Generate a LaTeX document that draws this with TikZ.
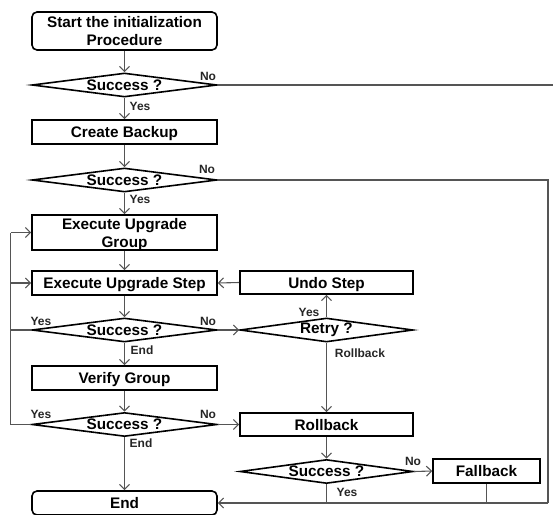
\documentclass[tikz,border=0pt]{standalone}
\usepackage{fontspec}
\setmainfont{Liberation Sans}
\usetikzlibrary{shapes.geometric,arrows.meta}
\definecolor{linegray}{RGB}{85,85,85}
\begin{document}
\begin{tikzpicture}[x=1pt,y=-1pt,
 box/.style={draw=black,line width=1.6pt,rectangle,minimum width=185pt,minimum height=24pt,inner sep=0pt,text depth=0pt,font=\fontsize{15.3}{18}\selectfont\bfseries,align=center},
 rbox/.style={box,rounded corners=5pt},
 dia/.style={draw=black,line width=1.6pt,diamond,aspect=7.7,minimum width=185pt,minimum height=24pt,inner sep=0pt,font=\fontsize{15.3}{18}\selectfont\bfseries},
 conn/.style={draw=linegray,line width=1.1pt},
 arr/.style={conn,-{Straight Barb[length=5pt,width=10pt]}},
 lbl/.style={font=\fontsize{12}{14}\selectfont\bfseries,text=black!85,inner sep=0pt}]
\useasboundingbox (0,0) rectangle (553,514);

\node[rbox,minimum height=38pt] (start) at (124.5,31) {Start the initialization\\Procedure};
\node[dia] (d1) at (124.5,85) {Success ?};
\node[box] (backup) at (124.5,132) {Create Backup};
\node[dia] (d2) at (124.5,180) {Success ?};
\node[box,minimum height=35pt] (group) at (124.5,232.5) {Execute Upgrade\\Group};
\node[box] (stepb) at (124.5,283) {Execute Upgrade Step};
\node[box,minimum width=173pt,minimum height=23pt] (undo) at (326.5,282.5) {Undo Step};
\node[dia] (d3) at (124.5,330) {Success ?};
\node[dia,minimum width=173pt] (retry) at (326.5,330) {Retry ?};
\node[box] (verify) at (124.5,378) {Verify Group};
\node[dia] (d4) at (124.5,424.5) {Success ?};
\node[box,minimum width=173pt,minimum height=23pt] (rollback) at (326.5,424.5) {Rollback};
\node[dia,minimum width=173pt] (d5) at (326.5,471.5) {Success ?};
\node[box,minimum width=107pt] (fallback) at (486.5,471) {Fallback};
\node[rbox,minimum height=24pt] (end) at (124.5,503) {End};

\coordinate (nE) at (553,85);
\coordinate (rc) at (548,180);
\coordinate (rb) at (548,503);
\coordinate (LT) at (10.5,232.5);
\coordinate (L3) at (10.5,330);
\coordinate (L4) at (10.5,424.5);

% main spine
\draw[arr] (start) -- (d1);
\draw[arr] (d1) -- (backup);
\draw[conn] (d1.east) -- (nE);
\draw[arr] (backup) -- (d2);
\draw[arr] (d2) -- (group);
\draw[conn] (d2.east) -- (rc) -- (rb);
\draw[arr] (rb) -- (end.east);
\draw[arr] (group) -- (stepb);
\draw[arr] (stepb) -- (d3);
\draw[arr] (d3) -- (verify);
\draw[arr] (verify) -- (d4);
\draw[arr] (d4) -- (end);

% loops on the left
\draw[conn] (d4.west) -- (L4) -- (LT);
\draw[arr] (LT) -- (group.west);
\draw[conn] (d3.west) -- (L3);
\draw[arr] (L3 |- stepb.west) -- (stepb.west);

% retry branch
\draw[arr] (d3.east) -- (retry.west);
\draw[arr] (retry.north) -- (undo.south);
\draw[arr] (undo.west) -- (stepb.east);
\draw[arr] (retry.south) -- (rollback.north);
\draw[arr] (d4.east) -- (rollback.west);
\draw[arr] (rollback) -- (d5);
\draw[arr] (d5.east) -- (fallback.west);
\draw[conn] (d5.south) -- (d5.south |- rb);
\draw[conn] (fallback.south) -- (fallback.south |- rb);

% labels
\node[lbl] at (208,76) {No};
\node[lbl] at (140,106) {Yes};
\node[lbl] at (207,169) {No};
\node[lbl] at (140,199) {Yes};
\node[lbl] at (41,321) {Yes};
\node[lbl] at (208,321) {No};
\node[lbl] at (142,350) {End};
\node[lbl] at (309,312) {Yes};
\node[lbl] at (360,353.5) {Rollback};
\node[lbl] at (41,414) {Yes};
\node[lbl] at (208,414) {No};
\node[lbl] at (141,443) {End};
\node[lbl] at (413,461) {No};
\node[lbl] at (347,492) {Yes};
\end{tikzpicture}
\end{document}
